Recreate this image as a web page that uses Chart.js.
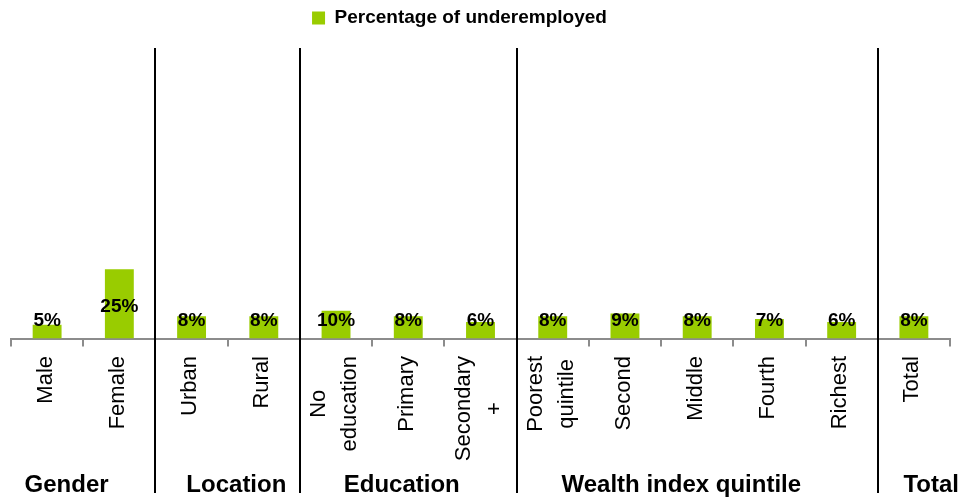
<!DOCTYPE html>
<html>
<head>
<meta charset="utf-8">
<script src="https://cdn.jsdelivr.net/npm/chart.js@4.4.1/dist/chart.umd.min.js"></script>
<style>
  html, body { margin: 0; padding: 0; background: #ffffff; }
  #wrap { width: 968px; height: 502px; }
  canvas { display: block; }
</style>
</head>
<body>
<div id="wrap"><canvas id="chart" width="968" height="502"></canvas></div>
<script>
// Categories (each entry is the list of lines of its axis label)
const categories = [
  ['Male'], ['Female'],
  ['Urban'], ['Rural'],
  ['No', 'education'], ['Primary'], ['Secondary', '+'],
  ['Poorest', 'quintile'], ['Second'], ['Middle'], ['Fourth'], ['Richest'],
  ['Total']
];
// Percentage of underemployed, per category
const underemployed = [5, 25, 8, 8, 10, 8, 6, 8, 9, 8, 7, 6, 8];
const seriesName = 'Percentage of underemployed';

// Category groups shown under the axis
const groupNames = ['Gender', 'Location', 'Education', 'Wealth index quintile', 'Total'];
const groupSizes = [2, 2, 3, 5, 1];
// where each group title sits, in category-index units
const groupLabelAt = [0.27, 2.62, 4.91, 8.78, 12.24];

const FONT = '"Liberation Sans", Arial, Helvetica, sans-serif';
const BAR_COLOR = '#99CC00';
const AXIS_GREY = '#8c8c8c';
const LEGEND_HEIGHT = 61.5;
const LEGEND_SHIFT = -21;

// Fix the legend band height so the plot area starts where wanted
const legendBand = {
  id: 'legendBand',
  afterInit(chart) {
    const legend = chart.legend;
    const fit = legend.fit;
    legend.fit = function () {
      fit.call(this);
      this.height = LEGEND_HEIGHT;
    };
  },
  afterLayout(chart) {
    chart.legend.left += LEGEND_SHIFT;
    chart.legend.right += LEGEND_SHIFT;
  }
};

// Value labels, rotated category labels, group separators and group titles
const decorations = {
  id: 'decorations',
  afterDraw(chart) {
    const ctx = chart.ctx;
    const xs = chart.scales.x;
    const area = chart.chartArea;
    const bars = chart.getDatasetMeta(0).data;

    ctx.save();
    // value labels
    ctx.fillStyle = '#000';
    ctx.font = 'bold 19px ' + FONT;
    ctx.textAlign = 'center';
    ctx.textBaseline = 'middle';
    bars.forEach((bar, i) => {
      const mid = (bar.y + bar.base) / 2 + 2.5;
      const y = Math.min(mid, bar.base - 18);
      ctx.fillText(underemployed[i] + '%', bar.x, y);
    });

    // category labels, reading bottom to top, lines centred on each other
    ctx.font = '22px ' + FONT;
    const top = area.bottom + 17.5;
    const gap = 31;
    categories.forEach((lines, i) => {
      const x = xs.getPixelForValue(i) - 1.5;
      const w = Math.max(...lines.map(l => ctx.measureText(l).width));
      ctx.save();
      ctx.translate(x, top);
      ctx.rotate(-Math.PI / 2);
      lines.forEach((line, k) => {
        const off = (k - (lines.length - 1) / 2) * gap;
        ctx.fillText(line, -w / 2, off);
      });
      ctx.restore();
    });

    // separators between groups
    ctx.strokeStyle = '#000';
    ctx.lineWidth = 2;
    let idx = 0;
    for (let g = 0; g < groupSizes.length - 1; g++) {
      idx += groupSizes[g];
      const x = Math.round(xs.getPixelForValue(idx - 0.5)) + 0.0;
      ctx.beginPath();
      ctx.moveTo(x, 48);
      ctx.lineTo(x, 493);
      ctx.stroke();
    }

    // group titles
    ctx.font = 'bold 24px ' + FONT;
    ctx.textBaseline = 'alphabetic';
    groupNames.forEach((name, g) => {
      ctx.fillText(name, xs.getPixelForValue(groupLabelAt[g]), 492);
    });
    ctx.restore();
  }
};

new Chart(document.getElementById('chart'), {
  type: 'bar',
  data: {
    labels: categories.map(l => l.join(' ')),
    datasets: [{
      label: seriesName,
      data: underemployed,
      backgroundColor: BAR_COLOR,
      borderWidth: 0,
      barPercentage: 0.4,
      categoryPercentage: 1
    }]
  },
  options: {
    responsive: false,
    animation: false,
    devicePixelRatio: 1,
    layout: { padding: { left: 11, right: 18, top: 0, bottom: 0 } },
    plugins: {
      legend: {
        position: 'top',
        labels: {
          boxWidth: 13,
          boxHeight: 13,
          padding: 8.5,
          color: '#000',
          font: { family: FONT, size: 19, weight: 'bold' }
        }
      },
      tooltip: { enabled: false }
    },
    scales: {
      x: {
        grid: {
          display: true,
          offset: true,
          drawOnChartArea: false,
          drawTicks: true,
          tickLength: 8,
          color: AXIS_GREY,
          lineWidth: 2
        },
        border: { display: true, color: AXIS_GREY, width: 2 },
        ticks: { display: false },
        afterFit(scale) { scale.height = 502 - 338.5; }
      },
      y: { display: false, min: 0, max: 100 }
    }
  },
  plugins: [legendBand, decorations]
});
</script>
</body>
</html>
